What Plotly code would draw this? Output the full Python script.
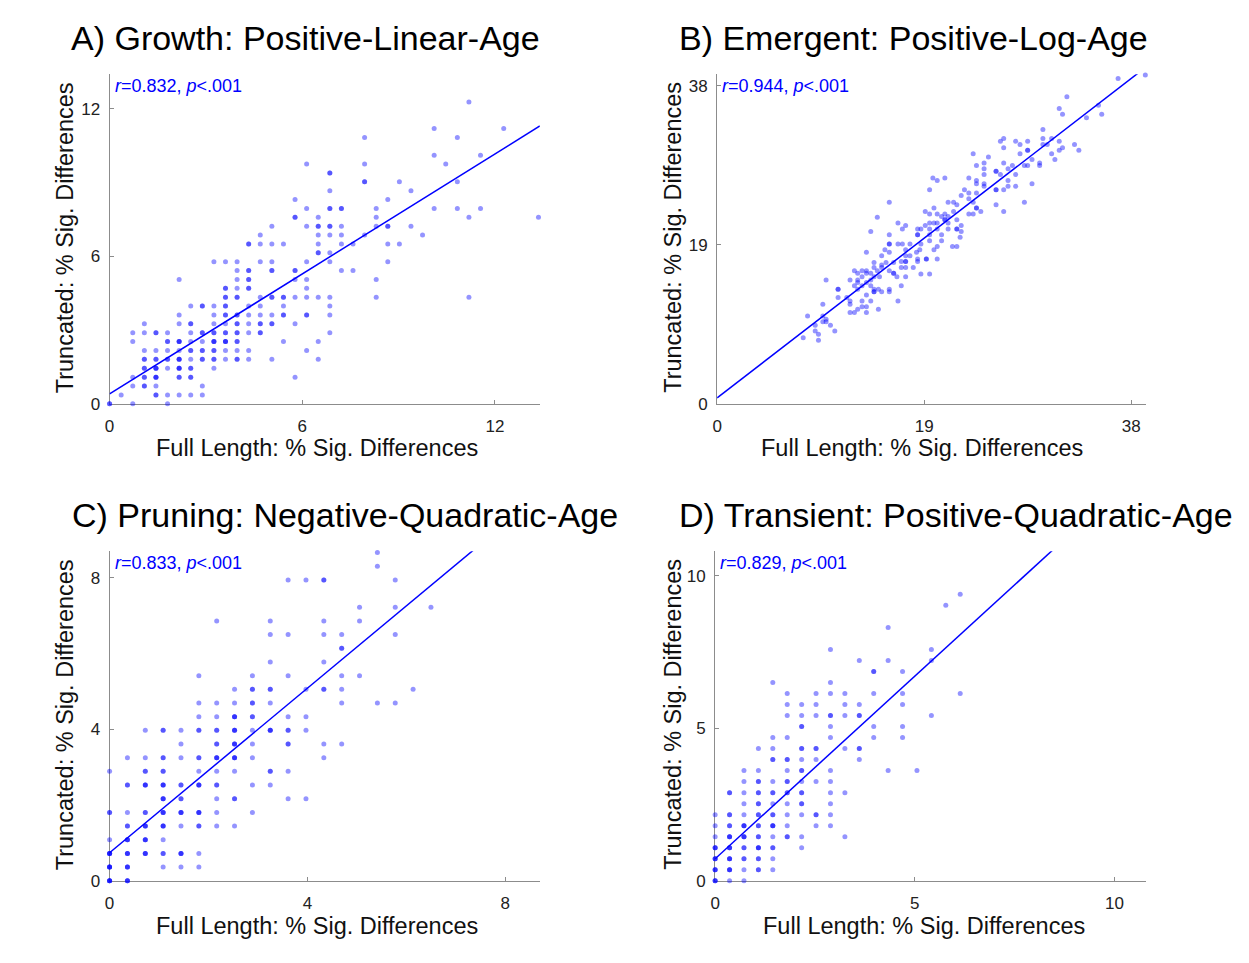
import numpy as np
import plotly.graph_objects as go

W, H = 1249, 963
FONT = "Liberation Sans, Arial, Helvetica, sans-serif"
BLUE = "#0000ff"

# percent of significant differences represented by one significant test
PCT_PER_TEST = 100.0 / 277.0

# ---------------- Panel A: Growth (grid counts; n = overlapping subjects) ----
a_rows_y = [34, 31, 30, 28, 27, 26, 25, 24, 23, 22, 21, 20, 19, 18, 17, 16, 15,
            14, 13, 12, 11, 10, 9, 8, 7, 6, 5, 4, 3, 2, 1, 0]
a_rows_x = [[31], [28, 34], [22, 30], [28, 32], [17, 22, 29], [19], [22, 25, 30],
            [19, 26], [16, 24], [17, 19, 20, 23, 28, 30, 32], [16, 18, 23, 31, 37],
            [14, 17, 18, 19, 20, 23, 24, 26], [13, 18, 19, 20, 22, 27],
            [12, 13, 14, 15, 18, 20, 21, 24, 25], [18, 19],
            [9, 10, 11, 13, 14, 17, 19, 24], [11, 12, 14, 16, 20, 21],
            [6, 11, 12, 16, 17, 23], [10, 11, 12, 17],
            [10, 11, 13, 14, 15, 16, 17, 18, 19, 23, 31],
            [7, 8, 9, 10, 12, 13, 15, 19], [6, 9, 10, 11, 12, 13, 14, 15, 17, 19],
            [3, 6, 7, 9, 10, 11, 12, 13, 14, 16],
            [2, 3, 4, 5, 7, 8, 9, 10, 11, 12, 13, 19],
            [2, 5, 6, 7, 8, 9, 10, 11, 15, 18],
            [3, 4, 5, 6, 7, 8, 9, 10, 11, 12, 17],
            [3, 4, 5, 6, 7, 8, 9, 10, 11, 12, 14, 18],
            [3, 4, 5, 6, 7, 9], [2, 3, 4, 6, 7, 16], [2, 3, 4, 8],
            [1, 4, 5, 6, 7, 8], [0, 2, 5]]
a_rows_n = [[1], [1, 1], [1, 1], [1, 1], [1, 1, 1], [2], [2, 1, 1],
            [1, 1], [1, 1], [1, 2, 2, 1, 1, 1, 1], [2, 1, 1, 1, 1],
            [1, 1, 2, 2, 1, 1, 2, 1], [1, 1, 1, 1, 1, 1],
            [2, 1, 1, 1, 1, 1, 1, 1, 1], [2, 1],
            [1, 1, 1, 1, 1, 1, 1, 1], [1, 2, 2, 2, 1, 1],
            [1, 1, 2, 1, 1, 1], [2, 1, 2, 1],
            [2, 2, 1, 2, 2, 1, 1, 1, 1, 1, 1],
            [1, 2, 1, 2, 1, 1, 1, 1], [1, 1, 2, 2, 1, 1, 1, 2, 2, 1],
            [1, 1, 2, 1, 1, 2, 1, 2, 2, 1],
            [1, 1, 2, 1, 1, 2, 2, 2, 2, 1, 2, 1],
            [1, 2, 3, 1, 1, 3, 3, 2, 1, 1],
            [1, 1, 1, 1, 2, 2, 2, 1, 1, 1, 1],
            [2, 2, 2, 3, 1, 2, 2, 1, 2, 1, 1, 1],
            [2, 3, 1, 3, 2, 1], [1, 2, 3, 2, 2, 1], [1, 2, 1, 1],
            [1, 2, 1, 1, 1, 1], [2, 1, 1]]

# ---------------- Panel B: Emergent (percent values) ----------------
b_x = [39.3, 36.8, 32.1, 31.4, 31.7, 35.0, 33.9, 35.3, 29.9, 26.3, 26.0, 27.4, 28.5,
       29.9, 30.7, 31.4, 27.8, 29.9, 30.3, 26.3, 31.7, 32.8, 33.2, 28.5, 28.5, 27.8,
       23.5, 30.7, 31.4, 31.0, 24.9, 28.9, 26.3, 29.6, 29.6, 23.8, 24.5, 28.2, 28.5,
       27.1, 24.5, 25.6, 25.6, 26.7, 26.0, 27.4, 24.5, 19.8, 20.9, 20.2, 23.1, 23.8,
       23.8, 26.7, 28.9, 26.7, 24.5, 24.5, 25.6, 25.6, 26.3, 27.4, 19.5, 22.7, 23.1,
       23.8, 22.4, 23.1, 23.5, 28.2, 25.6, 26.3, 21.2, 21.7, 22.0, 19.9, 23.8, 23.8,
       24.2, 23.5, 23.1, 19.1, 19.5, 20.2, 20.9, 21.7, 21.2, 20.6, 20.9, 20.9, 22.0,
       19.5, 19.9, 20.2, 21.2, 19.1, 18.4, 18.7, 19.5, 20.2, 21.2, 22.0, 22.0, 22.4,
       22.4, 16.6, 17.0, 17.3, 14.1, 15.8, 18.4, 18.4, 19.5, 20.6, 22.3, 20.6, 19.5,
       14.7, 15.8, 13.7, 15.4, 15.8, 15.8, 16.6, 17.0, 17.7, 18.7, 20.2, 21.6, 22.0,
       18.6, 17.3, 15.1, 15.8, 17.3, 17.7, 18.3, 19.9, 20.2, 19.2, 19.2, 18.4, 18.4,
       14.4, 15.5, 16.2, 16.9, 17.3, 17.3, 15.1, 18.0, 16.9, 17.3, 15.1, 15.8, 16.2,
       16.2, 14.4, 14.7, 14.1, 12.6, 13.3, 13.7, 12.9, 13.7, 13.3, 14.4, 14.9, 17.3,
       16.5, 18.7, 19.5, 12.2, 12.9, 14.1, 12.9, 13.7, 10.0, 12.6, 13.3, 14.1, 16.9,
       11.1, 11.1, 14.4, 14.8, 12.9, 15.8, 14.4, 14.4, 15.1, 15.8, 13.7, 11.9, 11.1,
       12.2, 13.3, 14.1, 16.6, 9.7, 12.2, 13.7, 13.3, 12.9, 14.8, 12.2, 12.6, 13.7,
       8.3, 9.7, 10.0, 9.7, 9.0, 10.0, 10.4, 9.0, 10.8, 9.3, 7.9, 9.3]
b_y = [39.3, 38.9, 36.7, 35.3, 34.6, 35.7, 34.2, 34.6, 32.8, 31.7, 31.4, 31.4, 31.4,
       31.7, 31.7, 31.4, 31.0, 31.0, 31.0, 30.6, 30.6, 31.0, 30.3, 30.3, 30.3, 29.9,
       29.9, 29.9, 30.3, 29.2, 29.5, 29.2, 28.8, 28.8, 28.5, 28.5, 28.8, 28.5, 28.5,
       28.5, 28.1, 27.8, 27.8, 28.1, 27.4, 27.4, 27.4, 27.0, 27.0, 26.7, 27.0, 26.7,
       26.3, 26.7, 26.3, 26.0, 26.3, 26.0, 25.6, 25.6, 25.6, 26.0, 25.6, 25.6, 25.2,
       25.2, 24.9, 24.5, 24.1, 24.1, 23.8, 23.0, 24.1, 24.1, 23.8, 23.4, 23.4, 23.4,
       23.0, 22.7, 22.7, 23.0, 22.7, 22.7, 22.7, 23.0, 22.4, 22.4, 22.0, 22.0, 22.0,
       21.6, 21.6, 21.6, 21.6, 21.3, 20.9, 20.9, 20.9, 20.9, 20.9, 20.9, 20.9, 21.3,
       20.6, 21.6, 20.9, 21.3, 20.6, 20.2, 20.2, 20.2, 20.2, 20.2, 19.9, 19.5, 19.5,
       22.3, 24.1, 18.1, 18.4, 19.1, 19.1, 19.1, 19.1, 19.1, 19.1, 18.8, 18.8, 18.8,
       18.4, 18.4, 17.7, 18.1, 17.7, 17.7, 18.1, 18.4, 17.3, 17.3, 17.3, 17.3, 17.0,
       16.9, 16.9, 16.9, 17.0, 17.0, 17.0, 16.6, 16.3, 16.3, 16.3, 16.3, 15.9, 15.6,
       15.6, 16.3, 15.9, 15.6, 15.9, 15.9, 15.9, 15.6, 15.6, 15.2, 15.2, 15.2, 15.2,
       15.2, 15.5, 15.5, 14.8, 14.8, 14.8, 14.5, 14.5, 14.8, 14.1, 14.1, 14.1, 14.1,
       13.7, 13.7, 13.7, 13.7, 13.7, 13.7, 13.4, 13.4, 13.4, 13.4, 13.0, 12.7, 12.7,
       12.3, 12.3, 12.3, 12.3, 11.9, 11.9, 11.6, 11.6, 11.3, 11.3, 10.9, 10.9, 10.9,
       10.5, 10.5, 10.1, 9.8, 9.4, 9.8, 9.4, 8.7, 8.7, 8.3, 7.9, 7.6]

# ---------------- Panel C: Pruning (grid counts) ----------------
c_rows_y = [24, 23, 22, 20, 19, 18, 17, 16, 15, 14, 13, 12, 11, 10, 9, 8, 7, 6, 5,
            4, 3, 2, 1, 0]
c_rows_x = [[15], [15], [10, 11, 12, 16], [14, 16, 18], [6, 9, 12, 14],
            [9, 10, 12, 13, 16], [13], [9, 12], [5, 8, 10, 13, 14],
            [7, 8, 9, 11, 12, 13, 17], [5, 6, 7, 8, 9, 13, 15, 16],
            [5, 6, 7, 8, 10, 11], [2, 3, 4, 5, 6, 7, 8, 9, 10, 11],
            [4, 6, 7, 8, 10, 12, 13], [1, 2, 3, 4, 5, 6, 7, 8, 12],
            [0, 2, 3, 5, 6, 7, 9, 10], [1, 2, 3, 4, 5, 6, 8, 9],
            [3, 4, 6, 7, 10, 11], [0, 1, 2, 3, 4, 5, 6, 8],
            [1, 2, 3, 4, 5, 6, 7], [0, 1, 2, 3], [0, 1, 2, 3, 4, 5],
            [0, 1, 3, 4, 5], [0, 1]]
c_rows_n = [[1], [1], [1, 1, 2, 1], [1, 1, 1], [1, 1, 1, 1],
            [1, 1, 1, 1, 1], [2], [1, 1], [1, 1, 1, 1, 1],
            [1, 2, 2, 1, 2, 1, 1], [1, 1, 1, 2, 1, 1, 1, 1],
            [1, 1, 3, 2, 1, 1], [1, 2, 1, 2, 2, 3, 1, 3, 2, 1],
            [1, 2, 3, 1, 2, 1, 1], [1, 1, 2, 1, 2, 3, 3, 1, 1],
            [1, 2, 2, 1, 1, 1, 2, 1], [2, 3, 3, 2, 3, 2, 1, 1],
            [3, 2, 1, 2, 1, 1], [2, 1, 2, 3, 3, 3, 1, 1],
            [2, 3, 3, 1, 2, 1, 1], [1, 3, 3, 1], [4, 3, 3, 2, 3, 1],
            [4, 3, 1, 1, 1], [4, 3]]

# ---------------- Panel D: Transient (grid counts) ----------------
d_rows_y = [26, 25, 23, 21, 20, 19, 18, 17, 16, 15, 14, 13, 12, 11, 10, 9, 8, 7,
            6, 5, 4, 3, 2, 1, 0]
d_rows_x = [[17], [16], [12], [8, 15], [10, 12, 15], [11, 13], [4, 8],
            [5, 7, 8, 9, 11, 13, 17], [5, 6, 7, 9, 10, 13],
            [5, 6, 7, 8, 9, 10, 15], [6, 8, 11, 13], [4, 5, 8, 11, 13],
            [3, 4, 6, 7, 9, 10], [4, 5, 6, 7, 10], [2, 3, 5, 6, 8, 12, 14],
            [2, 3, 4, 5, 6, 7, 8], [1, 2, 3, 4, 5, 6, 8, 9], [2, 3, 4, 5, 6, 8],
            [0, 1, 2, 3, 4, 5, 6, 7, 8], [0, 1, 2, 3, 4, 5, 7, 8],
            [0, 1, 2, 3, 4, 5, 6, 9], [0, 1, 2, 3, 4, 6], [0, 1, 2, 3, 4],
            [0, 1, 2, 3, 4], [0, 1, 2]]
d_rows_n = [[1], [1], [1], [1, 1], [1, 1, 1], [2, 1], [1, 1],
            [1, 1, 1, 1, 1, 1, 1], [1, 1, 1, 1, 1, 1],
            [1, 1, 1, 2, 1, 2, 1], [2, 1, 1, 1], [1, 1, 1, 1, 1],
            [1, 1, 2, 2, 1, 2], [2, 2, 1, 1, 1], [1, 1, 1, 2, 1, 1, 1],
            [1, 2, 1, 2, 1, 1, 1], [2, 1, 2, 2, 2, 2, 1, 1], [1, 2, 1, 1, 2, 1],
            [1, 2, 1, 2, 2, 1, 1, 2, 1], [1, 2, 3, 2, 3, 1, 1, 1],
            [1, 3, 3, 2, 1, 2, 1, 1], [3, 3, 2, 3, 2, 1], [3, 3, 2, 2, 1],
            [3, 3, 1, 2, 1], [3, 1, 1]]

# regression fits (intercept, slope) and stats
fit_intercept = [0.40, 0.70, 0.74, 0.72]
fit_slope = [0.813, 1.005, 1.086, 1.197]
r_values = ["0.832", "0.944", "0.833", "0.829"]
titles = ["A) Growth: Positive-Linear-Age", "B) Emergent: Positive-Log-Age",
          "C) Pruning: Negative-Quadratic-Age", "D) Transient: Positive-Quadratic-Age"]
axis_max = [13.4, 39.4, 8.7, 10.8]
tick_vals = [[0, 6, 12], [0, 19, 38], [0, 4, 8], [0, 5, 10]]
x_label = "Full Length: % Sig. Differences"
y_label = "Truncated: % Sig. Differences"


def expand_grid(rows_y, rows_x, rows_n):
    xs, ys = [], []
    for yv, xr, nr in zip(rows_y, rows_x, rows_n):
        for xv, n in zip(xr, nr):
            for _ in range(n):
                xs.append(xv * PCT_PER_TEST)
                ys.append(yv * PCT_PER_TEST)
    return xs, ys


ax, ay = expand_grid(a_rows_y, a_rows_x, a_rows_n)
cx, cy = expand_grid(c_rows_y, c_rows_x, c_rows_n)
dx, dy = expand_grid(d_rows_y, d_rows_x, d_rows_n)
data_sets = [(ax, ay), (b_x, b_y), (cx, cy), (dx, dy)]

# layout geometry (pixels) : left, right, top, bottom of each plot area
boxes = [(105, 537, 75, 408), (715, 1146, 75, 408),
         (105, 537, 557, 890), (713, 1146, 557, 890)]
title_pos = [(302, 38), (912, 38), (341, 520), (955, 520)]
xlab_pos = [(313, 453), (921, 453), (313, 936), (923, 936)]
ylab_pos = [(60, 240), (670, 240), (60, 722), (670, 722)]


def px(x):
    return x / W


def py(y):
    return 1 - y / H


fig = go.Figure()
annotations = []
layout_axes = {}
for k in range(4):
    sfx = "" if k == 0 else str(k + 1)
    xs, ys = data_sets[k]
    fig.add_trace(go.Scatter(
        x=xs, y=ys, mode="markers", xaxis="x" + sfx, yaxis="y" + sfx,
        marker=dict(color=BLUE, size=5, opacity=0.42, line=dict(width=0)),
        cliponaxis=False, showlegend=False, hoverinfo="skip"))
    lx = [0, axis_max[k]]
    ly = [fit_intercept[k] + fit_slope[k] * v for v in lx]
    fig.add_trace(go.Scatter(
        x=lx, y=ly, mode="lines", xaxis="x" + sfx, yaxis="y" + sfx,
        line=dict(color=BLUE, width=1.5), showlegend=False, hoverinfo="skip"))

    l, r, t, b = boxes[k]
    common = dict(range=[0, axis_max[k]], tickvals=tick_vals[k],
                  ticktext=[str(v) for v in tick_vals[k]],
                  showline=True, linecolor="#8c8c8c", linewidth=1,
                  ticks="inside", ticklen=4, tickcolor="#8c8c8c",
                  showgrid=False, zeroline=False, layer="below traces",
                  tickfont=dict(family=FONT, size=17, color="#222222"))
    layout_axes["xaxis" + sfx] = dict(domain=[px(l), px(r)], anchor="y" + sfx,
                                      ticklabelstandoff=7, **common)
    layout_axes["yaxis" + sfx] = dict(domain=[py(b), py(t)], anchor="x" + sfx,
                                      ticklabelstandoff=5, **common)

    annotations.append(dict(text=titles[k], x=px(title_pos[k][0]),
                            y=py(title_pos[k][1]), xref="paper", yref="paper",
                            xanchor="center", yanchor="middle", showarrow=False,
                            font=dict(family=FONT, size=34, color="#000000")))
    annotations.append(dict(text=x_label, x=px(xlab_pos[k][0]),
                            y=py(xlab_pos[k][1]), xref="paper", yref="paper",
                            xanchor="center", yanchor="middle", showarrow=False,
                            font=dict(family=FONT, size=23.5, color="#111111")))
    annotations.append(dict(text=y_label, x=px(ylab_pos[k][0]),
                            y=py(ylab_pos[k][1]), xref="paper", yref="paper",
                            xanchor="center", yanchor="middle", showarrow=False,
                            textangle=-90,
                            font=dict(family=FONT, size=23.5, color="#111111")))
    annotations.append(dict(text="<i>r</i>=" + r_values[k] + ", <i>p</i>&lt;.001",
                            x=px(l + 3), y=py(t + 12), xref="paper", yref="paper",
                            xanchor="left", yanchor="middle", showarrow=False,
                            font=dict(family=FONT, size=18, color=BLUE)))

fig.update_layout(width=W, height=H, margin=dict(l=0, r=0, t=0, b=0),
                  paper_bgcolor="white", plot_bgcolor="white",
                  annotations=annotations, **layout_axes)

fig.write_html("out.html")
